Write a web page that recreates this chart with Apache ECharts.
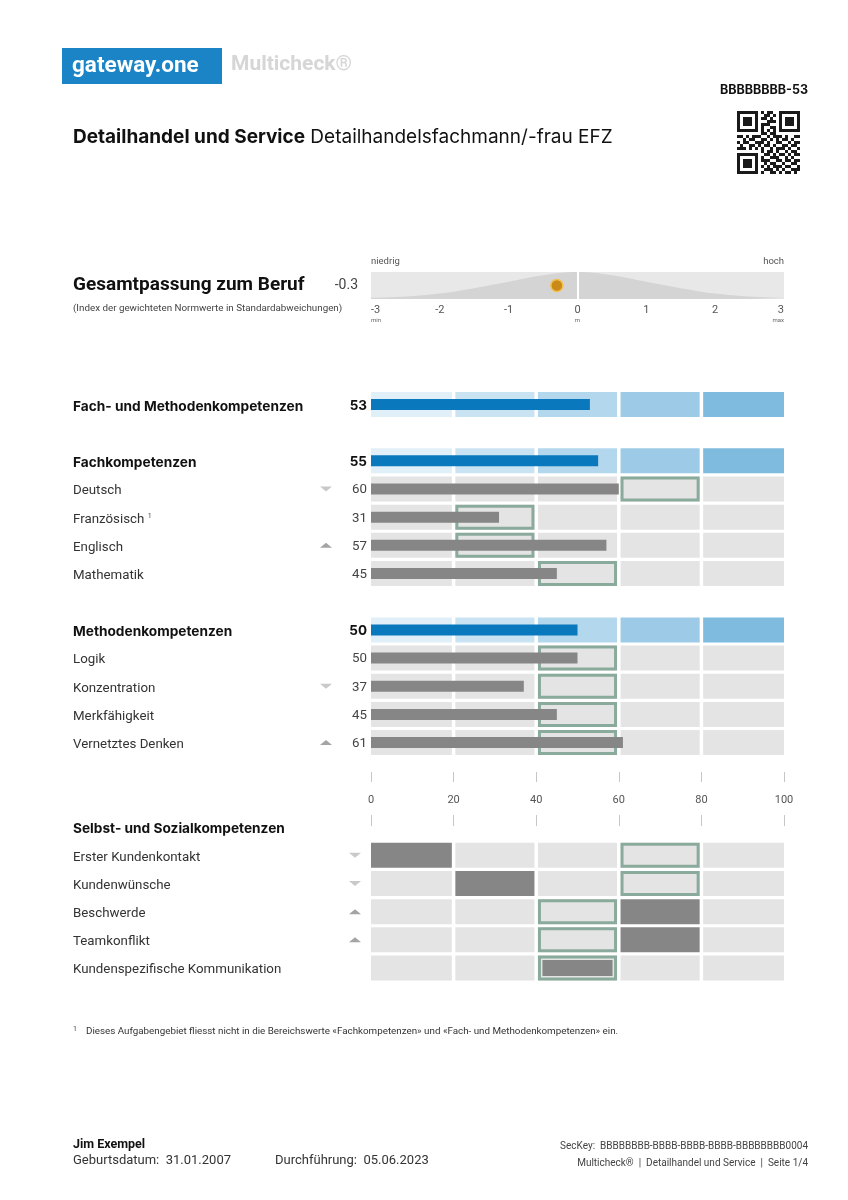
<!DOCTYPE html>
<html><head><meta charset="utf-8">
<script src="https://cdn.jsdelivr.net/npm/echarts@6/dist/echarts.min.js"></script>
<style>html,body{margin:0;padding:0;background:#fff}#c{width:848px;height:1200px}</style>
</head><body><div id="c"></div>
<script>
// ---------- DATA ----------
const barLabels = ['Fach- und Methodenkompetenzen','Fachkompetenzen','Deutsch','Französisch','Englisch','Mathematik','Methodenkompetenzen','Logik','Konzentration','Merkfähigkeit','Vernetztes Denken'];
const barValues = [53,55,60,31,57,45,50,50,37,45,61];
const barSummary = [1,1,0,0,0,0,1,0,0,0,0];
const barNorm = [null,null,60,20,20,40,null,40,40,40,40];
const barTrend = ['','','down','','up','','','','down','','up'];
const barNotes = ['','','','1','','','','','','',''];
const socialTitle = 'Selbst- und Sozialkompetenzen';
const socialLabels = ['Erster Kundenkontakt','Kundenwünsche','Beschwerde','Teamkonflikt','Kundenspezifische Kommunikation'];
const socialScore = [0,20,60,60,40];
const socialNorm = [60,60,40,40,40];
const socialTrend = ['down','down','up','up',''];
const axisTickValues = [0,20,40,60,80,100];
const gaugeTicks = [-3,-2,-1,0,1,2,3];
const gaugeSubs = ['min','','','m','','','max'];
const gaugeValue = -0.3;
const curveX = [-3,-2.5,-2,-1.5,-1,-0.5,0,0.5,1,1.5,2,2.5,3];
const curveY = [0.04,0.09,0.2,0.4,0.64,0.88,1,0.88,0.64,0.4,0.2,0.09,0.04];
const qrRows = [
'111111101011001111111','100000100110101000001','101110101101001011101','101110100011101011101',
'101110101110001011101','100000101001101000001','111111101010101111111','000000001101100000000',
'110101110010111010011','001011001101010110100','101100111010011001011','010011010110100110110',
'111010101001011101001','000000001011010010110','111111100110101101011','100000101001110010100',
'101110101110011011011','101110100101100100110','101110101010111011001','100000100111010100111',
'111111101001101011010'];

// ---------- LAYOUT ----------
const yCats = [barLabels[0],' ',barLabels[1],barLabels[2],barLabels[3],barLabels[4],barLabels[5],'  ',
  barLabels[6],barLabels[7],barLabels[8],barLabels[9],barLabels[10],'   ','    ',socialTitle].concat(socialLabels);
const headers = [barLabels[0],barLabels[1],barLabels[6],socialTitle];
const blues = ['#e1eff8','#cae3f2','#b3d7ed','#9dcbe7','#7ebbdf'];
const trendCode = t => t==='up'?1:(t==='down'?-1:0);

function cellX(api,i,slot){
  const a = api.coord([i*20,slot])[0] + (i>0?1.75:0);
  const b = api.coord([(i+1)*20,slot])[0] - (i<4?1.75:0);
  return [a,b];
}
function arrow(kids,x,cy,t){
  if(t===-1) kids.push({type:'polygon',shape:{points:[[x-6,cy-2.5],[x+6,cy-2.5],[x,cy+2.5]]},style:{fill:'#c9c9c9'}});
  if(t===1) kids.push({type:'polygon',shape:{points:[[x-6,cy+2.5],[x+6,cy+2.5],[x,cy-2.5]]},style:{fill:'#a4a4a4'}});
}
function renderBar(params,api){
  const v=api.value(0), slot=api.value(1), norm=api.value(2), summary=api.value(3)===1, t=api.value(4);
  const c=api.coord([0,slot]); const cy=c[1], x0=c[0], ch=25, top=cy-ch/2;
  const kids=[];
  for(let i=0;i<5;i++){const [a,b]=cellX(api,i,slot);
    kids.push({type:'rect',shape:{x:a,y:top,width:b-a,height:ch},style:{fill:summary?blues[i]:'#e4e4e4'}});}
  if(norm>=0){const i=Math.round(norm/20);const [a,b]=cellX(api,i,slot);
    kids.push({type:'rect',shape:{x:a+1.5,y:top+1.5,width:b-a-3,height:ch-3},style:{fill:'none',stroke:'#8aab9c',lineWidth:3}});}
  const xe=api.coord([v,slot])[0];
  kids.push({type:'rect',shape:{x:x0,y:cy-5.5,width:xe-x0,height:11},style:{fill:summary?'#0a78bd':'#868686'}});
  kids.push({type:'text',x:367,y:cy+1,style:{text:String(v),align:'right',verticalAlign:'middle',
    font:summary?'bold 13.5px Inter':'13.3px Roboto',fill:summary?'#111':'#444'}});
  arrow(kids,326,cy,t);
  return {type:'group',children:kids};
}
function renderSocial(params,api){
  const score=api.value(0), slot=api.value(1), norm=api.value(2), t=api.value(3);
  const cy=api.coord([0,slot])[1], ch=25, top=cy-ch/2;
  const kids=[]; const si=Math.round(score/20), ni=Math.round(norm/20);
  for(let i=0;i<5;i++){const [a,b]=cellX(api,i,slot);
    kids.push({type:'rect',shape:{x:a,y:top,width:b-a,height:ch},style:{fill:(i===si&&i!==ni)?'#868686':'#e4e4e4'}});}
  const [a,b]=cellX(api,ni,slot);
  kids.push({type:'rect',shape:{x:a+1.5,y:top+1.5,width:b-a-3,height:ch-3},style:{fill:'none',stroke:'#8aab9c',lineWidth:3}});
  if(si===ni) kids.push({type:'rect',shape:{x:a+4.5,y:top+4.5,width:b-a-9,height:ch-9},style:{fill:'#868686'}});
  arrow(kids,355,cy,t);
  return {type:'group',children:kids};
}

const barData = barLabels.map((l,i)=>[barValues[i],yCats.indexOf(l),barNorm[i]===null?-1:barNorm[i],barSummary[i],trendCode(barTrend[i])]);
const socialData = socialLabels.map((l,i)=>[socialScore[i],yCats.indexOf(l),socialNorm[i],trendCode(socialTrend[i])]);

// ---------- GRAPHICS (text & header) ----------
function T(x,y,text,font,fill,align,va,rich){
  return {type:'text',x:x,y:y,silent:true,style:{text:text,font:font,fill:fill||'#222',align:align||'left',verticalAlign:va||'middle',rich:rich}};
}
const g=[];
g.push({type:'rect',shape:{x:62,y:48,width:160,height:36},style:{fill:'#1b84c7'},silent:true});
g.push(T(72,66,'gateway.one','bold 22.5px Roboto','#ffffff'));
g.push(T(231,65,'Multicheck®','bold 21px Roboto','#d6d6d6'));
g.push(T(808,90,'BBBBBBBB-53','bold 12.5px Inter','#111','right'));
qrRows.forEach((r,ri)=>{for(let ci=0;ci<r.length;ci++){ if(r[ci]==='1') g.push({type:'rect',silent:true,shape:{x:737+ci*3,y:111+ri*3,width:3,height:3},style:{fill:'#1a1a1a'}}); }});
g.push(T(73,137,'{b|Detailhandel und Service} {r|Detailhandelsfachmann/-frau EFZ}','19px Inter','#111','left','middle',
  {b:{fontFamily:'Inter',fontWeight:'bold',fontSize:19,color:'#111'},r:{fontFamily:'Inter',fontSize:19,color:'#333'}}));
g.push(T(73,285,'Gesamtpassung zum Beruf','bold 19px Roboto','#111'));
g.push(T(358,285,String(gaugeValue),'14px Roboto','#444','right'));
g.push(T(73,309,'(Index der gewichteten Normwerte in Standardabweichungen)','9.8px Roboto','#444'));
g.push(T(371,262,'niedrig','9.5px Roboto','#555'));
g.push(T(784,262,'hoch','9.5px Roboto','#555','right'));
g.push(T(73,1029,'1','7px Roboto','#444'));
g.push(T(86,1032,'Dieses Aufgabengebiet fliesst nicht in die Bereichswerte «Fachkompetenzen» und «Fach- und Methodenkompetenzen» ein.','9.8px Roboto','#333'));
g.push(T(73,1145,'Jim Exempel','bold 12.5px Roboto','#111'));
g.push(T(73,1161,'Geburtsdatum:  31.01.2007','13px Roboto','#333'));
g.push(T(275,1161,'Durchführung:  05.06.2023','13px Roboto','#333'));
g.push(T(808,1146,'SecKey:  BBBBBBBB-BBBB-BBBB-BBBB-BBBBBBBB0004','10px Roboto','#444','right'));
g.push(T(808,1163,'Multicheck®  |  Detailhandel und Service  |  Seite 1/4','10px Roboto','#444','right'));

// ---------- CHART ----------
const chart = echarts.init(document.getElementById('c'),null,{renderer:'canvas'});
chart.setOption({
  animation:false,
  backgroundColor:'#ffffff',
  graphic:g,
  grid:[
    {left:371,width:413,top:390.4,height:591.7},
    {left:371,width:413,top:782,height:33},
    {left:371,width:413,top:272,height:27,show:true,backgroundColor:'#e8e8e8',borderWidth:0}
  ],
  xAxis:[
    {gridIndex:0,type:'value',min:0,max:100,show:false},
    {gridIndex:1,type:'value',min:0,max:100,interval:20,position:'bottom',
      axisLine:{show:false},splitLine:{show:false},
      axisTick:{show:true,length:11,lineStyle:{color:'#c6c6c6'}},
      axisLabel:{inside:true,margin:9,color:'#555',fontFamily:'Roboto',fontSize:11,
        formatter:v=>axisTickValues.indexOf(v)>=0?String(v):''}},
    {gridIndex:1,type:'value',min:0,max:100,interval:20,position:'top',
      axisLine:{show:false},splitLine:{show:false},axisLabel:{show:false},
      axisTick:{show:true,length:10,lineStyle:{color:'#c6c6c6'}}},
    {gridIndex:2,type:'value',min:-3,max:3,interval:1,
      axisLine:{show:false},axisTick:{show:false},splitLine:{show:false},
      axisLabel:{margin:5,alignMinLabel:'left',alignMaxLabel:'right',
        formatter:v=>{const s=gaugeSubs[gaugeTicks.indexOf(v)];return s?'{a|'+v+'}\n{b|'+s+'}':'{a|'+v+'}';},
        rich:{a:{fontSize:11,color:'#555',fontFamily:'Roboto',lineHeight:12},b:{fontSize:6,color:'#666',fontFamily:'Roboto',lineHeight:8}}}}
  ],
  yAxis:[
    {gridIndex:0,type:'category',data:yCats,inverse:true,
      axisLine:{show:false},axisTick:{show:false},splitLine:{show:false},
      axisLabel:{align:'left',margin:298,padding:[4,0,0,0],
        formatter:(v,i)=>{ if(!v.trim()) return ''; if(headers.indexOf(v)>=0) return '{h|'+v+'}';
          const bi=barLabels.indexOf(v); const note=bi>=0?barNotes[bi]:''; return '{n|'+v+'}'+(note?' {s|'+note+'}':''); },
        rich:{h:{fontFamily:'Inter',fontWeight:'bold',fontSize:13.7,color:'#111'},
              n:{fontFamily:'Roboto',fontSize:13.3,color:'#333'},
              s:{fontFamily:'Roboto',fontSize:7,color:'#444',verticalAlign:'top',padding:[0,0,6,0]}}}},
    {gridIndex:1,type:'value',min:0,max:1,show:false},
    {gridIndex:2,type:'value',min:0,max:1,show:false}
  ],
  series:[
    {type:'custom',xAxisIndex:0,yAxisIndex:0,renderItem:renderBar,data:barData,silent:true},
    {type:'custom',xAxisIndex:0,yAxisIndex:0,renderItem:renderSocial,data:socialData,silent:true},
    {type:'line',xAxisIndex:3,yAxisIndex:2,smooth:0.4,symbol:'none',silent:true,
      data:curveX.map((x,i)=>[x,curveY[i]]),lineStyle:{width:0},areaStyle:{color:'#d4d4d4',opacity:1},
      markLine:{silent:true,symbol:'none',label:{show:false},lineStyle:{color:'#ffffff',width:2,type:'solid'},data:[{xAxis:0}]}},
    {type:'scatter',xAxisIndex:3,yAxisIndex:2,data:[[gaugeValue,0.5]],symbolSize:12,silent:true,z:5,
      itemStyle:{color:'#c98a17',borderColor:'#f3c04f',borderWidth:1.5,opacity:1}}
  ]
});
</script></body></html>
